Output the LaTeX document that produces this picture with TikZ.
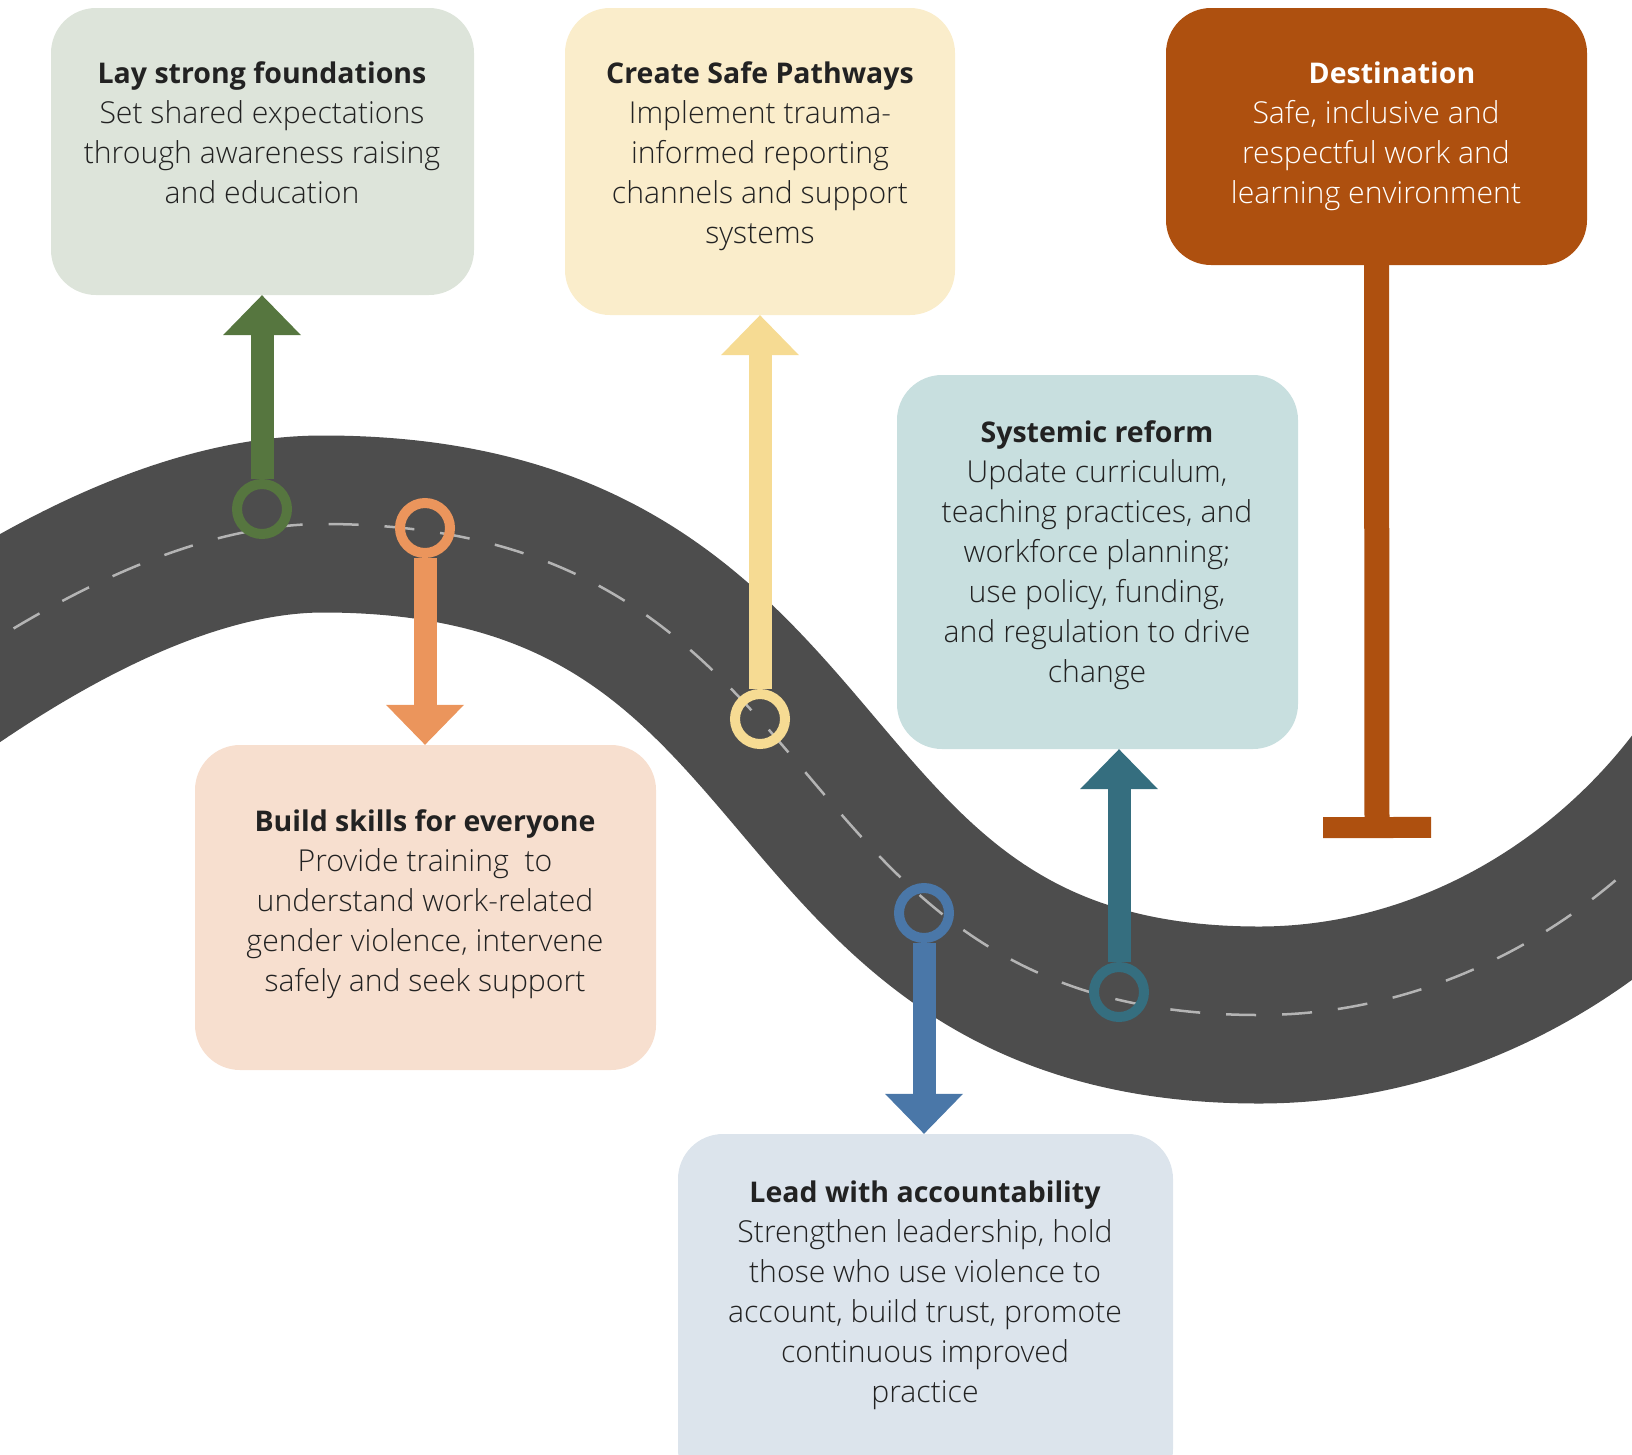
\documentclass[tikz,border=0pt]{standalone}
\usepackage{fontspec}
\setmainfont{Open Sans}[UprightFont={* Light},BoldFont={* Bold}]
\usetikzlibrary{arrows.meta}

\definecolor{roadgrey}{HTML}{4D4D4D}
\definecolor{lanegrey}{HTML}{B4B4B4}
\definecolor{inkdark}{HTML}{222222}
\definecolor{foundfill}{HTML}{DDE4DA}
\definecolor{pathfill}{HTML}{FAEDCB}
\definecolor{destfill}{HTML}{AE500F}
\definecolor{reformfill}{HTML}{C8DFDF}
\definecolor{skillfill}{HTML}{F7DFCF}
\definecolor{leadfill}{HTML}{DCE4EC}
\definecolor{pingreen}{HTML}{56763F}
\definecolor{pinorange}{HTML}{EB955C}
\definecolor{pinyellow}{HTML}{F6DB93}
\definecolor{pinblue}{HTML}{4A77A8}
\definecolor{pinteal}{HTML}{356E7F}

\newcommand\stagetitle[1]{\textbf{\fontsize{28.5}{40}\selectfont #1}}

\tikzset{
  box/.style={rectangle,rounded corners=45pt,fill=#1,inner sep=0pt},
  txt/.style={align=center,text=inkdark,inner sep=0pt,font=\fontsize{30.2}{40}\selectfont,
    execute at begin node=\strut,execute at end node=\strut},
  road/.style={line width=177pt,draw=roadgrey},
  lane/.style={draw=lanegrey,line width=2.5pt,dash pattern=on 30pt off 26pt},
  ring/.style={circle,draw=#1,line width=10pt,minimum size=50pt,inner sep=0pt},
  stem/.style={draw=#1,line width=23pt,-{Triangle[length=40pt,width=78pt,line width=0pt]}},
  post/.style={draw=destfill,line width=25pt,-{Rectangle[length=21pt,width=108pt,line width=0pt]}}
}

\begin{document}
\begin{tikzpicture}[x=1pt,y=-1pt]
\useasboundingbox (0,0) rectangle (1632,1454);
\clip (0,0) rectangle (1632,1454);

\draw[road,postaction={lane}] (-80,690) .. controls (60,590) and (200,524) .. (323,524)
  .. controls (859,524) and (755,1015) .. (1259,1015)
  .. controls (1450,1015) and (1620,910) .. (1720,765);

\node[box=foundfill,minimum width=423pt,minimum height=287pt] (found) at (262.5,151.5) {};
\node[box=pathfill,minimum width=390pt,minimum height=307pt] (path) at (760,161.5) {};
\node[box=destfill,minimum width=421pt,minimum height=257pt] (dest) at (1376.5,136.5) {};
\node[box=reformfill,minimum width=401pt,minimum height=374pt] (reform) at (1097.5,562) {};
\node[box=skillfill,minimum width=461pt,minimum height=325pt] (skill) at (425.5,907.5) {};
\node[box=leadfill,minimum width=495pt,minimum height=360pt] (lead) at (925.5,1314) {};

\node[txt] (found-t) at (262,139) {\stagetitle{Lay strong foundations}\\Set shared expectations\\through awareness raising\\and education};
\node[txt] (path-t) at (760,159) {\stagetitle{Create Safe Pathways}\\Implement trauma-\\informed reporting\\channels and support\\systems};
\node[txt,text=white] (dest-t) at (1376,139) {\hspace*{32pt}\stagetitle{Destination}\\Safe, inclusive and\\respectful work and\\learning environment};
\node[txt] (reform-t) at (1097,557.5) {\stagetitle{Systemic reform}\\Update curriculum,\\teaching practices, and\\workforce planning;\\use policy, funding,\\and regulation to drive\\change};
\node[txt] (skill-t) at (425,907) {\stagetitle{Build skills for everyone}\\Provide training\ \ to\\understand work-related\\gender violence, intervene\\safely and seek support};
\node[txt] (lead-t) at (925,1298) {\stagetitle{Lead with accountability}\\Strengthen leadership, hold\\those who use violence to\\account, build trust, promote\\continuous improved\\practice};

\node[ring=pingreen] (pin1) at (262,509) {};
\node[ring=pinorange] (pin2) at (425,528) {};
\node[ring=pinyellow] (pin3) at (760,719) {};
\node[ring=pinblue] (pin4) at (924,913) {};
\node[ring=pinteal] (pin5) at (1119,992) {};
\coordinate (postend) at (1377,838);

\draw[stem=pingreen] (pin1.north) -- (pin1 |- found.south);
\draw[stem=pinorange] (pin2.south) -- (pin2 |- skill.north);
\draw[stem=pinyellow] (pin3.north) -- (pin3 |- path.south);
\draw[stem=pinblue] (pin4.south) -- (pin4 |- lead.north);
\draw[stem=pinteal] (pin5.north) -- (pin5 |- reform.south);
\draw[post] (dest.south) -- (postend);

\end{tikzpicture}
\end{document}
